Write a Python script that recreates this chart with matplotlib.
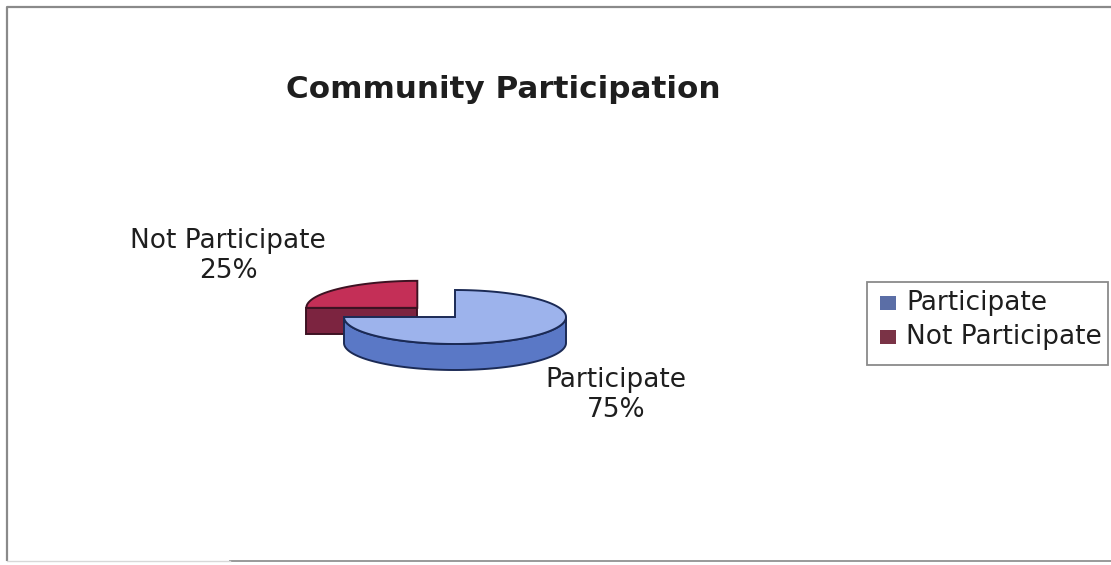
import numpy as np
import matplotlib
matplotlib.use("Agg")
import matplotlib.pyplot as plt
from matplotlib.patches import Polygon, Rectangle

# --- data ---
categories = ["Participate", "Not Participate"]
values = [75, 25]
explode = [0.0, 0.48]
title = "Community Participation"

top_colors = ["#9db3ec", "#c42f57"]
side_colors = ["#5a78c6", "#7c2440"]
edge_colors = ["#1b2a55", "#3d1222"]
legend_colors = ["#5b6ea6", "#7a3346"]

W, H = 1111, 565
fig = plt.figure(figsize=(W / 100, H / 100), dpi=100)
ax = fig.add_axes([0, 0, 1, 1])
ax.set_xlim(0, W)
ax.set_ylim(H, 0)
ax.axis("off")

# outer chart frame
ax.plot([1111, 7, 7], [7, 7, 561], color="#8a8a8a", lw=1.6, solid_capstyle="butt")
ax.plot([230, 1111], [561, 561], color="#9a9a9a", lw=1.4)
ax.plot([7, 230], [561, 561], color="#d8d8d8", lw=1.0)

# pie geometry (screen pixels), tilted 3D look
cx, cy = 455, 317
rx, ry = 111, 27
depth = 26


def pt(c, theta):
    return (c[0] + rx * np.cos(theta), c[1] - ry * np.sin(theta))


total = float(sum(values))
start = np.pi / 2
slices = []
for i, v in enumerate(values):
    sweep = 2 * np.pi * v / total
    a0, a1 = start - sweep, start  # clockwise from 12 o'clock
    mid = 0.5 * (a0 + a1)
    c = (cx + rx * explode[i] * np.cos(mid), cy - ry * explode[i] * np.sin(mid))
    slices.append((i, a0, a1, c))
    start -= sweep

# back slices first (higher centre drawn first)
for i, a0, a1, c in sorted(slices, key=lambda s: s[3][1]):
    ec, lw = edge_colors[i], 1.4
    # radial side faces whose outward normal points toward the viewer
    for ang, sign in ((a0, -1), (a1, 1)):
        if np.sin(ang + sign * np.pi / 2) < 0:
            p = pt(c, ang)
            face = [c, p, (p[0], p[1] + depth), (c[0], c[1] + depth)]
            ax.add_patch(Polygon(face, closed=True, fc=side_colors[i], ec=ec, lw=lw, zorder=2))
    # outer wall on the front half
    lo, hi = max(a0, -np.pi), min(a1, 0.0)
    if hi > lo:
        th = np.linspace(lo, hi, 120)
        topa = [pt(c, t) for t in th]
        bota = [(x, y + depth) for x, y in topa[::-1]]
        ax.add_patch(Polygon(topa + bota, closed=True, fc=side_colors[i], ec=ec, lw=lw, zorder=2))
    # top face
    th = np.linspace(a0, a1, 200)
    face = [c] + [pt(c, t) for t in th]
    ax.add_patch(Polygon(face, closed=True, fc=top_colors[i], ec=ec, lw=lw, zorder=3))

# data labels
txt = "#1e1e1e"
lab_font = dict(family="DejaVu Sans", fontsize=19, color=txt, ha="center", va="center",
                linespacing=1.2)
ax.text(228, 256, f"{categories[1]}\n{values[1]}%", **lab_font)
ax.text(616, 395, f"{categories[0]}\n{values[0]}%", **lab_font)

# title
ax.text(503, 90, title, family="DejaVu Sans", fontweight="bold", fontsize=22.3,
        color=txt, ha="center", va="center")

# legend box
ax.add_patch(Rectangle((867, 282), 241, 83, fc="white", ec="#8a8a8a", lw=1.3, zorder=4))
for k, name in enumerate(categories):
    yc = 303 + 34 * k
    ax.add_patch(Rectangle((880, yc - 7), 16, 14, fc=legend_colors[k], ec="none", zorder=5))
    ax.text(906, yc, name, family="DejaVu Sans", fontsize=19, color=txt,
            ha="left", va="center", zorder=5)

fig.savefig("out.png", dpi=100)
